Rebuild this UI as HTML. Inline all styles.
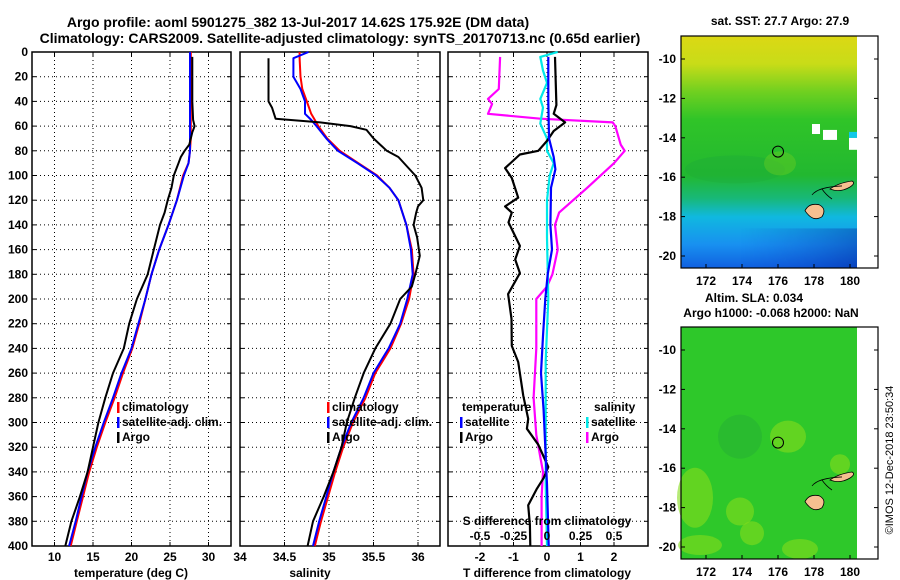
<!DOCTYPE html>
<html><head><meta charset="utf-8"><style>
html,body{margin:0;padding:0;background:#fff;}
svg{display:block;font-family:"Liberation Sans",sans-serif;font-weight:bold;}
</style></head><body>
<svg id="fig" width="900" height="580" viewBox="0 0 900 580" xmlns="http://www.w3.org/2000/svg">
<defs>
<linearGradient id="sstg" x1="0" y1="0" x2="0" y2="1">
<stop offset="0" stop-color="#dcd814"/><stop offset="0.12" stop-color="#c8dc18"/><stop offset="0.24" stop-color="#70d020"/>
<stop offset="0.36" stop-color="#30c428"/><stop offset="0.6" stop-color="#22b830"/><stop offset="0.7" stop-color="#18b878"/>
<stop offset="0.78" stop-color="#10b8e0"/><stop offset="0.9" stop-color="#1890f0"/><stop offset="1" stop-color="#1060e0"/>
</linearGradient>
<linearGradient id="deepg" x1="0" y1="0" x2="1" y2="0">
<stop offset="0" stop-color="#1040d0" stop-opacity="0"/><stop offset="1" stop-color="#001890" stop-opacity="0.9"/>
</linearGradient>
<linearGradient id="fadev" x1="0" y1="0" x2="0" y2="1">
<stop offset="0" stop-color="#fff" stop-opacity="0"/><stop offset="1" stop-color="#fff" stop-opacity="1"/>
</linearGradient>
<mask id="deepmask"><rect x="0" y="0" width="900" height="580" fill="url(#fadev)"/></mask>
</defs>
<g id="root"></g>
</svg>
<script>
// ---------- data ----------
const tDepth = [0,20,40,60,70,80,90,100,120,140,160,180,200,220,240,260,280,300,320,340,360,380,400];
const tClim  = [27.7,27.7,27.7,27.7,27.7,27.6,27.4,26.7,25.9,24.8,23.6,22.6,21.8,21.0,20.1,18.9,17.8,16.6,15.5,14.5,13.7,12.9,12.1];
const tSat   = [27.6,27.6,27.6,27.6,27.6,27.6,27.4,26.8,25.9,24.8,23.6,22.6,21.8,20.9,20.0,18.7,17.6,16.4,15.3,14.3,13.5,12.75,11.9];
const argoTDepth = [4,20,40,55,60,65,75,80,85,90,100,110,120,130,140,160,180,200,220,240,260,280,300,320,340,360,380,400];
const argoT = [27.9,27.9,27.9,28.0,28.2,27.9,27.5,26.9,26.4,26.1,25.5,25.2,24.7,24.3,23.7,22.9,22.1,20.7,19.7,19.0,17.6,16.6,15.7,15.0,14.3,13.3,12.2,11.4];

const sDepth = [0,5,20,30,40,50,55,60,70,80,90,100,110,120,140,160,180,200,220,240,260,280,300,320,340,360,380,400];
const sClim  = [34.67,34.67,34.68,34.70,34.75,34.80,34.84,34.88,34.98,35.12,35.33,35.54,35.68,35.78,35.87,35.93,35.95,35.90,35.81,35.69,35.52,35.41,35.27,35.16,35.07,34.99,34.91,34.84];
const sSat   = [34.77,34.60,34.60,34.68,34.73,34.73,34.80,34.86,34.97,35.10,35.32,35.53,35.68,35.78,35.87,35.92,35.94,35.88,35.80,35.67,35.50,35.39,35.25,35.14,35.05,34.97,34.89,34.82];
const argoSDepth = [5,40,45,54,57,60,63,70,80,85,100,110,120,125,130,140,150,165,180,190,200,220,240,260,280,300,320,340,360,380,400];
const argoS = [34.32,34.32,34.36,34.40,34.90,35.24,35.42,35.50,35.65,35.78,35.97,36.04,36.06,36.00,35.98,35.95,35.99,36.02,35.97,35.93,35.80,35.69,35.52,35.39,35.29,35.20,35.14,35.05,34.94,34.82,34.76];

const dTDepth = [4,43,50,57,64,72,80,83,94,102,118,125,130,138,157,168,179,196,216,238,251,278,297,305,318,336,345,354,367,383,400];
const dTArgo  = [0.24,0.28,0.20,0.54,0.20,0.0,-0.26,-0.81,-1.25,-1.05,-0.86,-1.25,-1.05,-1.15,-0.81,-0.95,-0.81,-1.16,-1.06,-1.05,-0.86,-0.71,-0.56,-0.60,-0.26,0.04,-0.10,-0.31,-0.56,-0.51,-0.50];
const dTSatDepth = [4,40,70,85,95,110,140,160,180,200,230,260,290,320,350,400];
const dTSat = [0.04,0.04,0.06,0.20,0.25,0.12,0.10,0.15,0.02,-0.05,-0.12,-0.18,-0.10,-0.05,0.0,0.05];
const dSArgoDepth = [4,30,38,42,50,54,57,60,75,80,90,110,130,140,160,180,190,200,240,280,310,340,360,400];
const dSArgo = [-0.35,-0.36,-0.44,-0.41,-0.44,-0.05,0.49,0.51,0.55,0.58,0.50,0.30,0.09,0.06,0.08,0.04,0.0,-0.08,-0.08,-0.10,-0.08,-0.03,-0.04,-0.04];
const dSSatDepth = [0,4,15,25,38,45,58,70,80,90,100,120,150,200,250,300,350,400];
const dSSat = [0.08,-0.05,-0.03,0.0,-0.05,-0.03,-0.05,0.0,0.0,0.05,0.02,0.0,0.0,0.01,-0.01,-0.01,-0.01,0.0];

const depthTicks = [0,20,40,60,80,100,120,140,160,180,200,220,240,260,280,300,320,340,360,380,400];
const tTicks = [10,15,20,25,30,35];
const sTicks = [34,34.5,35,35.5,36];
const sTickLabels = ["34","34.5","35","35.5","36"];
const dTTicks = [-2,-1,0,1,2];
const dSTicks = [-0.5,-0.25,0,0.25,0.5];
const dSTickLabels = ["-0.5","-0.25","0","0.25","0.5"];
const lonTicks = [172,174,176,178,180];
const latTicks = [-10,-12,-14,-16,-18,-20];
const argoLon = [176.0], argoLat = [-14.7];

// ---------- helpers ----------
const NS="http://www.w3.org/2000/svg";
const root=document.getElementById('root');
function mk(tag,attrs,parent,text){const e=document.createElementNS(NS,tag);for(const k in attrs)e.setAttribute(k,attrs[k]);if(text!==undefined)e.textContent=text;(parent||root).appendChild(e);return e;}
const Y0=52,Y1=546;
const yD=d=>Y0+(Y1-Y0)*d/400;
function lin(d0,d1,r0,r1){return v=>r0+(v-d0)*(r1-r0)/(d1-d0);}
const xT=lin(10,30,54.5,208.5);
const xS=lin(34,36,240,418);
const xDT=lin(0,1,547,580.5);
const xDS=lin(0,0.25,547,580.5);

function panel(name,x0,x1,vgrid){
  const g=mk('g',{});
  
  
  depthTicks.forEach(d=>{ if(d>0&&d<400){mk('line',{x1:x0,x2:x1,y1:yD(d),y2:yD(d),stroke:'#000','stroke-width':1,'stroke-dasharray':'1,3'},g);}
    mk('line',{x1:x0,x2:x0+4,y1:yD(d),y2:yD(d),stroke:'#000'},g);mk('line',{x1:x1-4,x2:x1,y1:yD(d),y2:yD(d),stroke:'#000'},g);});
  vgrid.forEach(x=>{ if(x>x0+2&&x<x1-2){mk('line',{x1:x,x2:x,y1:Y0,y2:Y1,stroke:'#000','stroke-dasharray':'1,3'},g);
    mk('line',{x1:x,x2:x,y1:Y1-4,y2:Y1,stroke:'#000'},g);mk('line',{x1:x,x2:x,y1:Y0,y2:Y0+4,stroke:'#000'},g);}});
  mk('rect',{x:x0,y:Y0,width:x1-x0,height:Y1-Y0,fill:'none',stroke:'#000','stroke-width':1.5},g);
  return g;
}
function series(name,xs,ds,xf,color,w,parent){
  const pts=xs.map((v,i)=>xf(v).toFixed(1)+','+yD(ds[i]).toFixed(1)).join(' ');
  const p=mk('polyline',{points:pts,fill:'none',stroke:color,'stroke-width':w,'stroke-linejoin':'round'},parent);
  
  
  return p;
}
function txt(s,x,y,anchor,size,parent,name){const t=mk('text',{x:x,y:y,'text-anchor':anchor||'middle','font-size':size||12},parent,s);
  
  
  return t;}
function legEntry(x,y,color,label,parent,name){
  mk('rect',{x:x,y:y-9,width:2.5,height:11,fill:color},parent);
  txt(label,x+5,y,'start',12,parent,name);
}

// titles
txt('Argo profile: aoml 5901275_382 13-Jul-2017 14.62S 175.92E (DM data)',298,27,'middle',14,null,'title-line-1');
txt('Climatology: CARS2009. Satellite-adjusted climatology: synTS_20170713.nc (0.65d earlier)',340,43,'middle',14,null,'title-line-2');

// depth labels
depthTicks.forEach(d=>txt(String(d),28,yD(d)+4,'end',12,null,'depth-tick-label'));

// Panel 1 temperature
const p1=panel('temperature-panel',32,231,tTicks.map(xT));
series('temperature-climatology',tClim,tDepth,xT,'#ff0000',2,p1);
series('temperature-satellite-adj',tSat,tDepth,xT,'#0000ff',2,p1);
series('temperature-argo',argoT,argoTDepth,xT,'#000000',2,p1);
tTicks.forEach(t=>{const x=xT(t); if(x<236) txt(String(t),x,561,'middle',12,null,'temperature-tick-label');});
txt('temperature (deg C)',131,577,'middle',12,null,'x-axis-title-temperature');
legEntry(117,411,'#ff0000','climatology',p1,'legend-climatology');
legEntry(117,426,'#0000ff','satellite-adj. clim.',p1,'legend-satellite');
legEntry(117,441,'#000000','Argo',p1,'legend-argo');

// Panel 2 salinity
const p2=panel('salinity-panel',240,440,sTicks.map(xS));
series('salinity-climatology',sClim,sDepth,xS,'#ff0000',2,p2);
series('salinity-satellite-adj',sSat,sDepth,xS,'#0000ff',2,p2);
series('salinity-argo',argoS,argoSDepth,xS,'#000000',2,p2);
sTicks.forEach((s,i)=>txt(sTickLabels[i],xS(s),561,'middle',12,null,'salinity-tick-label'));
txt('salinity',310,577,'middle',12,null,'x-axis-title-salinity');
legEntry(327,411,'#ff0000','climatology',p2,'legend-climatology');
legEntry(327,426,'#0000ff','satellite-adj. clim.',p2,'legend-satellite');
legEntry(327,441,'#000000','Argo',p2,'legend-argo');

// Panel 3 differences
const p3=panel('difference-panel',448,648,dTTicks.map(xDT));
series('s-diff-argo',dSArgo,dSArgoDepth,xDS,'#ff00ff',2.2,p3);
series('s-diff-satellite',dSSat,dSSatDepth,xDS,'#00e8e8',2.2,p3);
series('t-diff-argo',dTArgo,dTDepth,xDT,'#000000',2.2,p3);
series('t-diff-satellite',dTSat,dTSatDepth,xDT,'#0000ff',2.2,p3);
dTTicks.forEach(t=>txt(String(t),xDT(t),561,'middle',12,null,'t-diff-tick-label'));
txt('T difference from climatology',547,577,'middle',12,null,'x-axis-title-t-diff');
txt('S difference from climatology',547,525,'middle',12,p3,'s-diff-axis-title');
dSTicks.forEach((s,i)=>txt(dSTickLabels[i],xDS(s),540,'middle',12,p3,'s-diff-tick-label'));
txt('temperature',462,411,'start',12,p3,'legend-temperature-header');
legEntry(460,426,'#0000ff','satellite',p3,'legend-t-satellite');
legEntry(460,441,'#000000','Argo',p3,'legend-t-argo');
txt('salinity',594,411,'start',12,p3,'legend-salinity-header');
legEntry(586,426,'#00e8e8','satellite',p3,'legend-s-satellite');
legEntry(586,441,'#ff00ff','Argo',p3,'legend-s-argo');

// Maps
const MX0=681,MX1=878;
const xLon=lin(172,180,706,850);
function map(name,top,bottom,kind){
  const g=mk('g',{});
  
  
  const yLat=lin(-10,-20,top+23,top+220);
  const dataR=857;
  if(kind==='sst'){
    mk('rect',{x:MX0,y:top,width:dataR-MX0,height:bottom-top,fill:'url(#sstg)'},g);
    mk('rect',{x:740,y:yLat(-18.6),width:dataR-740,height:bottom-yLat(-18.6),fill:'url(#deepg)',mask:'url(#deepmask)'},g);
    mk('ellipse',{cx:735,cy:yLat(-15.6),rx:50,ry:14,fill:'#1ea838',opacity:0.35},g);
    mk('ellipse',{cx:780,cy:yLat(-15.3),rx:16,ry:12,fill:'#70d020',opacity:0.4},g);
    mk('rect',{x:812,y:yLat(-13.3),width:8,height:10,fill:'#fff'},g);
    mk('rect',{x:823,y:yLat(-13.6),width:14,height:10,fill:'#fff'},g);
    mk('rect',{x:849,y:yLat(-14.0),width:8,height:12,fill:'#fff'},g);
    mk('rect',{x:849,y:yLat(-13.7),width:8,height:6,fill:'#10c8e8'},g);
  } else {
    mk('rect',{x:MX0,y:top,width:dataR-MX0,height:bottom-top,fill:'#2ec82a'},g);
    [[695,yLat(-17.5),18,30],[740,yLat(-18.2),14,14],[700,yLat(-19.9),22,10],[800,yLat(-20.1),18,10],[788,yLat(-14.4),18,16],[840,yLat(-15.8),10,10],[752,yLat(-19.3),12,12]].forEach(e=>
      mk('ellipse',{cx:e[0],cy:e[1],rx:e[2],ry:e[3],fill:'#86dc1c',opacity:0.6},g));
    mk('ellipse',{cx:740,cy:yLat(-14.4),rx:22,ry:22,fill:'#22a838',opacity:0.4},g);
  }
  mk('rect',{x:dataR,y:top,width:MX1-dataR,height:bottom-top,fill:'#fff'},g);
  // islands
  mk('path',{d:`M805 ${yLat(-17.7)} q4 -8 14 -6 q8 4 3 12 q-9 6 -17 -6z`,fill:'#f5c090',stroke:'#000','stroke-width':0.8},g);
  mk('path',{d:`M830 ${yLat(-16.6)} q8 -6 22 -8 q4 2 -2 6 q-10 6 -20 2z`,fill:'#f5c090',stroke:'#000','stroke-width':0.8},g);
  mk('path',{d:`M812 ${yLat(-16.9)} q6 -8 30 -9 M822 ${yLat(-16.6)} q4 6 10 10`,fill:'none',stroke:'#000','stroke-width':0.8},g);
  const c=mk('circle',{cx:xLon(argoLon[0]),cy:yLat(argoLat[0]),r:5.5,fill:'none',stroke:'#000','stroke-width':1},g);
  
  
  mk('rect',{x:MX0,y:top,width:MX1-MX0,height:bottom-top,fill:'none',stroke:'#000','stroke-width':1.2},g);
  lonTicks.forEach(l=>{const x=xLon(l);mk('line',{x1:x,x2:x,y1:bottom-4,y2:bottom,stroke:'#000'},g);
    txt(String(l),x,bottom+17,'middle',12,g,'map-lon-tick-label');});
  latTicks.forEach(l=>{const y=yLat(l);mk('line',{x1:MX0,x2:MX0+4,y1:y,y2:y,stroke:'#000'},g);mk('line',{x1:MX1-4,x2:MX1,y1:y,y2:y,stroke:'#000'},g);
    txt(String(l),676,y+4,'end',12,g,'map-lat-tick-label');});
  return g;
}
map('sst-map',36,268,'sst');
map('sla-map',327,559,'sla');
txt('sat. SST: 27.7 Argo: 27.9',780,25,'middle',12,null,'sst-map-title');
txt('Altim. SLA: 0.034',754,302,'middle',12,null,'sla-map-title-1');
txt('Argo h1000: -0.068 h2000: NaN',771,317,'middle',12,null,'sla-map-title-2');
const cr=txt('©IMOS 12-Dec-2018 23:50:34',0,0,'middle',11,null,'copyright-timestamp');
cr.setAttribute('font-weight','normal');
cr.setAttribute('transform','translate(893,460) rotate(-90)');
</script>
</body></html>
